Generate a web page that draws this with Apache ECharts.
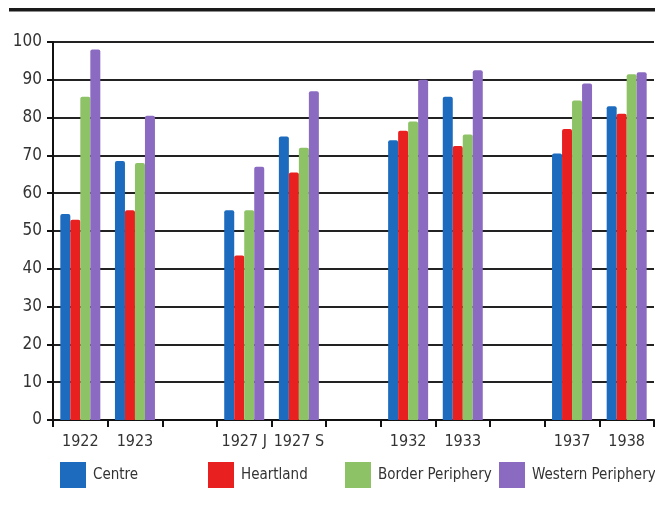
<!DOCTYPE html>
<html>
<head>
<meta charset="utf-8">
<script src="https://cdn.jsdelivr.net/npm/echarts@6/dist/echarts.min.js"></script>
<style>
  html, body { margin: 0; padding: 0; background: #fff; }
  #chart { width: 655px; height: 505px; }
</style>
</head>
<body>
<div id="chart"></div>
<script>
// Survey years; blank slots keep visual gaps between the pairs of years
const categories = ['1922', '1923', ' ', '1927 J', '1927 S', '  ', '1932', '1933', '   ', '1937', '1938'];
const yTicks = [0, 10, 20, 30, 40, 50, 60, 70, 80, 90, 100];

const centre          = [54.5, 68.5, null, 55.5, 75, null, 74, 85.5, null, 70.5, 83];
const heartland       = [53, 55.5, null, 43.5, 65.5, null, 76.5, 72.5, null, 77, 81];
const borderPeriphery = [85.5, 68, null, 55.5, 72, null, 79, 75.5, null, 84.5, 91.5];
const westernPeriphery = [98, 80.5, null, 67, 87, null, 90, 92.5, null, 89, 92];

const seriesNames = ['Centre', 'Heartland', 'Border Periphery', 'Western Periphery'];
const seriesValues = [centre, heartland, borderPeriphery, westernPeriphery];
const colors = ['#1c6bbf', '#e8201f', '#8dc266', '#8b6bc1'];

const FONT = '"DejaVu Sans Condensed", "Liberation Sans", Arial, sans-serif';

const chart = echarts.init(document.getElementById('chart'), null, { renderer: 'canvas' });

const legendLeft = [60, 208, 345, 499];

chart.setOption({
  animation: false,
  backgroundColor: '#ffffff',
  grid: { left: 53, right: 1, top: 42, bottom: 85, containLabel: false },
  legend: seriesNames.map((name, i) => ({
    data: [name],
    left: legendLeft[i],
    top: 462,
    itemWidth: 26,
    itemHeight: 26,
    itemGap: 0,
    padding: 0,
    icon: 'rect',
    selectedMode: false,
    textStyle: { fontFamily: FONT, fontSize: 15, color: '#333', padding: [0, 0, 0, 2] }
  })),
  xAxis: {
    type: 'category',
    data: categories,
    boundaryGap: true,
    axisLine: { show: true, lineStyle: { color: '#111', width: 2 } },
    axisTick: { show: true, interval: 0, length: 7, lineStyle: { color: '#111', width: 2 } },
    axisLabel: {
      interval: 0, margin: 14,
      fontFamily: FONT, fontSize: 16, color: '#333'
    },
    splitLine: { show: false }
  },
  yAxis: {
    type: 'value',
    min: yTicks[0],
    max: yTicks[yTicks.length - 1],
    interval: 10,
    axisLine: { show: true, lineStyle: { color: '#111', width: 2 } },
    axisTick: { show: true, length: 6, lineStyle: { color: '#111', width: 2 } },
    axisLabel: { margin: 11, fontFamily: FONT, fontSize: 17, color: '#333' },
    splitLine: { show: true, lineStyle: { color: '#222', width: 2 } }
  },
  series: seriesNames.map((name, i) => ({
    name,
    type: 'bar',
    data: seriesValues[i],
    barWidth: 10,
    barGap: '0%',
    itemStyle: { color: colors[i], borderRadius: [2, 2, 0, 0] }
  })),
  graphic: [
    {
      type: 'rect',
      shape: { x: 9, y: 8, width: 646, height: 3.5 },
      style: { fill: '#1a1a1a' },
      silent: true
    }
  ]
});
</script>
</body>
</html>
